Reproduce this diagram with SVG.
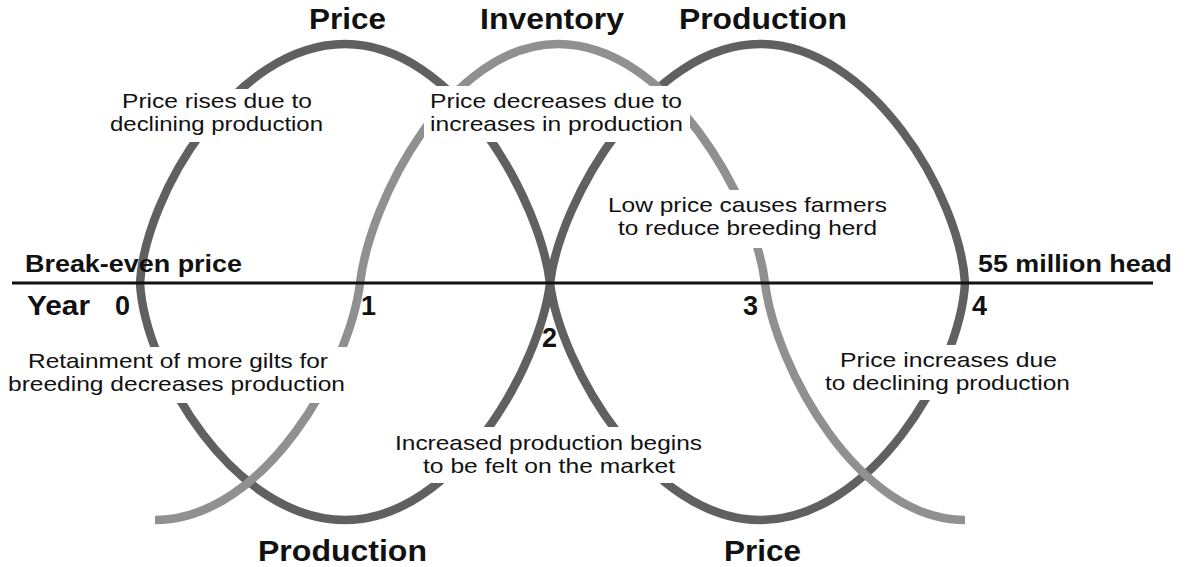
<svg xmlns="http://www.w3.org/2000/svg" width="1186" height="567" viewBox="0 0 1186 567">
  <style>
    .curve { fill: none; stroke-width: 8.5; stroke-linecap: butt; }
    .dark { stroke: #606060; }
    .light { stroke: #909090; }
    .axis { stroke: #111; stroke-width: 3; }
    .mask { fill: #fff; }
    text { font-family: "Liberation Sans", Arial, Helvetica, sans-serif; fill: #111; }
    .note { font-size: 21px; }
    .lbl { font-size: 23px; font-weight: bold; }
    .num { font-size: 27px; font-weight: bold; }
    .title { font-size: 30px; font-weight: bold; }
  </style>

  <!-- cycle curves -->
  <g id="connectors">
    <path id="price-curve" class="curve dark" d="M140,283 C145,195 235,44 345,44 C455,44 540,200 550,283 C560,366 650,520 760,520 C870,520 960,371 965,283"/>
    <path id="production-curve" class="curve dark" d="M140,283 C145,371 235,520 345,520 C455,520 540,366 550,283 C560,200 650,44 760,44 C870,44 960,195 965,283"/>
    <path id="inventory-curve" class="curve light" d="M155,520 C265,520 350,366 360,283 C370,200 450,44 558,44 C668,44 755,200 765,283 C775,366 858,520 965,520"/>
  </g>

  <!-- break-even / year axis -->
  <g id="axis">
    <line class="axis" x1="12" y1="283" x2="1153" y2="283"/>
    <text class="lbl" x="25" y="272" textLength="217" lengthAdjust="spacingAndGlyphs">Break-even price</text>
    <text class="lbl" x="978" y="272" textLength="194" lengthAdjust="spacingAndGlyphs">55 million head</text>
    <text class="num" x="27" y="315" textLength="63" lengthAdjust="spacingAndGlyphs">Year</text>
    <text class="num" x="115" y="315">0</text>
    <text class="num" x="361" y="315">1</text>
    <text class="num" x="542" y="347">2</text>
    <text class="num" x="743" y="315">3</text>
    <text class="num" x="972" y="315">4</text>
  </g>

  <!-- curve titles -->
  <g id="title-price-top"><text class="title" x="309" y="29" textLength="77" lengthAdjust="spacingAndGlyphs">Price</text></g>
  <g id="title-inventory"><text class="title" x="480" y="29" textLength="144" lengthAdjust="spacingAndGlyphs">Inventory</text></g>
  <g id="title-production-top"><text class="title" x="679" y="29" textLength="168" lengthAdjust="spacingAndGlyphs">Production</text></g>
  <g id="title-production-bottom"><text class="title" x="258" y="561" textLength="169" lengthAdjust="spacingAndGlyphs">Production</text></g>
  <g id="title-price-bottom"><text class="title" x="724" y="561" textLength="77" lengthAdjust="spacingAndGlyphs">Price</text></g>

  <!-- phase notes, each on a white patch that breaks the curves -->
  <g id="note-price-rises">
    <rect class="mask" x="106" y="89" width="222" height="53"/>
    <text class="note" x="122" y="108" textLength="190" lengthAdjust="spacingAndGlyphs">Price rises due to</text>
    <text class="note" x="110" y="131" textLength="213" lengthAdjust="spacingAndGlyphs">declining production</text>
  </g>
  <g id="note-price-decreases">
    <rect class="mask" x="424" y="86" width="266" height="56"/>
    <text class="note" x="430" y="108" textLength="252" lengthAdjust="spacingAndGlyphs">Price decreases due to</text>
    <text class="note" x="430" y="131" textLength="253" lengthAdjust="spacingAndGlyphs">increases in production</text>
  </g>
  <g id="note-low-price">
    <rect class="mask" x="600" y="190" width="295" height="58"/>
    <text class="note" x="608" y="212" textLength="279" lengthAdjust="spacingAndGlyphs">Low price causes farmers</text>
    <text class="note" x="618" y="235" textLength="259" lengthAdjust="spacingAndGlyphs">to reduce breeding herd</text>
  </g>
  <g id="note-retainment">
    <rect class="mask" x="0" y="347" width="352" height="56"/>
    <text class="note" x="28" y="368" textLength="300" lengthAdjust="spacingAndGlyphs">Retainment of more gilts for</text>
    <text class="note" x="8" y="391" textLength="337" lengthAdjust="spacingAndGlyphs">breeding decreases production</text>
  </g>
  <g id="note-increased-production">
    <rect class="mask" x="390" y="427" width="320" height="56"/>
    <text class="note" x="395" y="450" textLength="307" lengthAdjust="spacingAndGlyphs">Increased production begins</text>
    <text class="note" x="423" y="473" textLength="252" lengthAdjust="spacingAndGlyphs">to be felt on the market</text>
  </g>
  <g id="note-price-increases">
    <rect class="mask" x="820" y="345" width="258" height="55"/>
    <text class="note" x="840" y="367" textLength="217" lengthAdjust="spacingAndGlyphs">Price increases due</text>
    <text class="note" x="825" y="390" textLength="245" lengthAdjust="spacingAndGlyphs">to declining production</text>
  </g>
</svg>
